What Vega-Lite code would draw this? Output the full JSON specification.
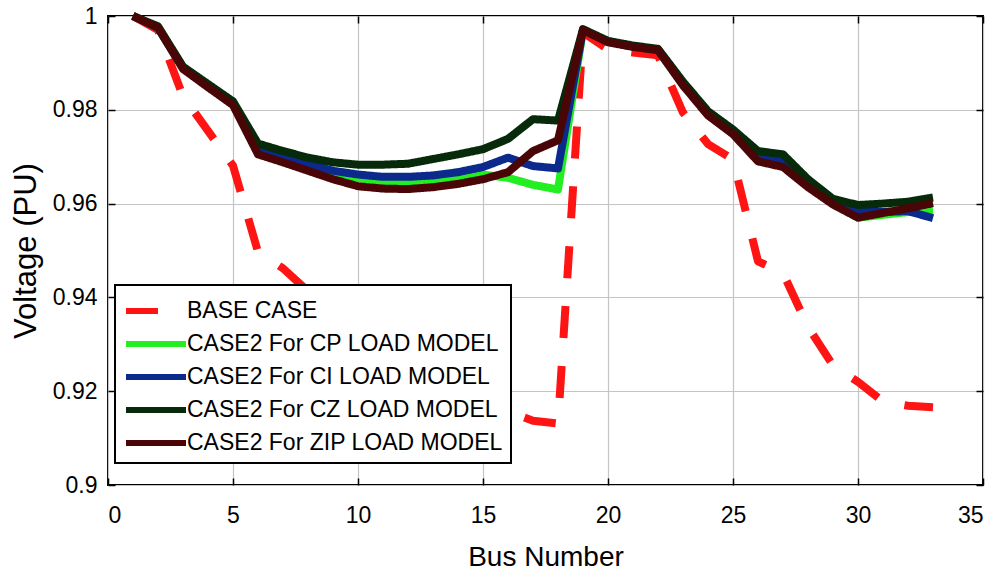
{
  "$schema": "https://vega.github.io/schema/vega-lite/v6.json",
  "width": 875,
  "height": 469,
  "autosize": {"type": "none"},
  "padding": {"left": 108, "top": 16, "right": 19, "bottom": 92},
  "background": "white",
  "data": {
    "values": [
      {"bus": 1, "BASE CASE": 1.0, "CASE2 For CP LOAD MODEL": 1.0, "CASE2 For CI LOAD MODEL": 1.0, "CASE2 For CZ LOAD MODEL": 1.0, "CASE2 For ZIP LOAD MODEL": 1.0},
      {"bus": 2, "BASE CASE": 0.997, "CASE2 For CP LOAD MODEL": 0.9975, "CASE2 For CI LOAD MODEL": 0.9975, "CASE2 For CZ LOAD MODEL": 0.9978, "CASE2 For ZIP LOAD MODEL": 0.9975},
      {"bus": 3, "BASE CASE": 0.9829, "CASE2 For CP LOAD MODEL": 0.9889, "CASE2 For CI LOAD MODEL": 0.989, "CASE2 For CZ LOAD MODEL": 0.9892, "CASE2 For ZIP LOAD MODEL": 0.9887},
      {"bus": 4, "BASE CASE": 0.9755, "CASE2 For CP LOAD MODEL": 0.985, "CASE2 For CI LOAD MODEL": 0.9852, "CASE2 For CZ LOAD MODEL": 0.9855, "CASE2 For ZIP LOAD MODEL": 0.9848},
      {"bus": 5, "BASE CASE": 0.9681, "CASE2 For CP LOAD MODEL": 0.9812, "CASE2 For CI LOAD MODEL": 0.9815, "CASE2 For CZ LOAD MODEL": 0.9818, "CASE2 For ZIP LOAD MODEL": 0.981},
      {"bus": 6, "BASE CASE": 0.9497, "CASE2 For CP LOAD MODEL": 0.9715, "CASE2 For CI LOAD MODEL": 0.972, "CASE2 For CZ LOAD MODEL": 0.9728, "CASE2 For ZIP LOAD MODEL": 0.9705},
      {"bus": 7, "BASE CASE": 0.9462, "CASE2 For CP LOAD MODEL": 0.9695, "CASE2 For CI LOAD MODEL": 0.9702, "CASE2 For CZ LOAD MODEL": 0.9712, "CASE2 For ZIP LOAD MODEL": 0.9688},
      {"bus": 8, "BASE CASE": 0.9413, "CASE2 For CP LOAD MODEL": 0.9677, "CASE2 For CI LOAD MODEL": 0.9685, "CASE2 For CZ LOAD MODEL": 0.9698, "CASE2 For ZIP LOAD MODEL": 0.967},
      {"bus": 9, "BASE CASE": 0.9351, "CASE2 For CP LOAD MODEL": 0.9662, "CASE2 For CI LOAD MODEL": 0.967, "CASE2 For CZ LOAD MODEL": 0.9688, "CASE2 For ZIP LOAD MODEL": 0.9652},
      {"bus": 10, "BASE CASE": 0.9292, "CASE2 For CP LOAD MODEL": 0.9654, "CASE2 For CI LOAD MODEL": 0.9662, "CASE2 For CZ LOAD MODEL": 0.9683, "CASE2 For ZIP LOAD MODEL": 0.9637},
      {"bus": 11, "BASE CASE": 0.9284, "CASE2 For CP LOAD MODEL": 0.9648, "CASE2 For CI LOAD MODEL": 0.9657, "CASE2 For CZ LOAD MODEL": 0.9683, "CASE2 For ZIP LOAD MODEL": 0.9632},
      {"bus": 12, "BASE CASE": 0.9269, "CASE2 For CP LOAD MODEL": 0.9647, "CASE2 For CI LOAD MODEL": 0.9657, "CASE2 For CZ LOAD MODEL": 0.9685, "CASE2 For ZIP LOAD MODEL": 0.9631},
      {"bus": 13, "BASE CASE": 0.9208, "CASE2 For CP LOAD MODEL": 0.965, "CASE2 For CI LOAD MODEL": 0.966, "CASE2 For CZ LOAD MODEL": 0.9695, "CASE2 For ZIP LOAD MODEL": 0.9635},
      {"bus": 14, "BASE CASE": 0.9185, "CASE2 For CP LOAD MODEL": 0.9655, "CASE2 For CI LOAD MODEL": 0.9667, "CASE2 For CZ LOAD MODEL": 0.9705, "CASE2 For ZIP LOAD MODEL": 0.9642},
      {"bus": 15, "BASE CASE": 0.9171, "CASE2 For CP LOAD MODEL": 0.9662, "CASE2 For CI LOAD MODEL": 0.9678, "CASE2 For CZ LOAD MODEL": 0.9716, "CASE2 For ZIP LOAD MODEL": 0.9652},
      {"bus": 16, "BASE CASE": 0.9157, "CASE2 For CP LOAD MODEL": 0.9655, "CASE2 For CI LOAD MODEL": 0.9698, "CASE2 For CZ LOAD MODEL": 0.9738, "CASE2 For ZIP LOAD MODEL": 0.9667},
      {"bus": 17, "BASE CASE": 0.9137, "CASE2 For CP LOAD MODEL": 0.964, "CASE2 For CI LOAD MODEL": 0.968, "CASE2 For CZ LOAD MODEL": 0.978, "CASE2 For ZIP LOAD MODEL": 0.9712},
      {"bus": 18, "BASE CASE": 0.9131, "CASE2 For CP LOAD MODEL": 0.963, "CASE2 For CI LOAD MODEL": 0.9675, "CASE2 For CZ LOAD MODEL": 0.9777, "CASE2 For ZIP LOAD MODEL": 0.9735},
      {"bus": 19, "BASE CASE": 0.9965, "CASE2 For CP LOAD MODEL": 0.997, "CASE2 For CI LOAD MODEL": 0.997, "CASE2 For CZ LOAD MODEL": 0.9972, "CASE2 For ZIP LOAD MODEL": 0.997},
      {"bus": 20, "BASE CASE": 0.9929, "CASE2 For CP LOAD MODEL": 0.9945, "CASE2 For CI LOAD MODEL": 0.9945, "CASE2 For CZ LOAD MODEL": 0.9947, "CASE2 For ZIP LOAD MODEL": 0.9944},
      {"bus": 21, "BASE CASE": 0.9922, "CASE2 For CP LOAD MODEL": 0.9935, "CASE2 For CI LOAD MODEL": 0.9935, "CASE2 For CZ LOAD MODEL": 0.9937, "CASE2 For ZIP LOAD MODEL": 0.9934},
      {"bus": 22, "BASE CASE": 0.9916, "CASE2 For CP LOAD MODEL": 0.9928, "CASE2 For CI LOAD MODEL": 0.9928, "CASE2 For CZ LOAD MODEL": 0.993, "CASE2 For ZIP LOAD MODEL": 0.9927},
      {"bus": 23, "BASE CASE": 0.9794, "CASE2 For CP LOAD MODEL": 0.9855, "CASE2 For CI LOAD MODEL": 0.9856, "CASE2 For CZ LOAD MODEL": 0.986, "CASE2 For ZIP LOAD MODEL": 0.9852},
      {"bus": 24, "BASE CASE": 0.9727, "CASE2 For CP LOAD MODEL": 0.979, "CASE2 For CI LOAD MODEL": 0.9792, "CASE2 For CZ LOAD MODEL": 0.9797, "CASE2 For ZIP LOAD MODEL": 0.9788},
      {"bus": 25, "BASE CASE": 0.9694, "CASE2 For CP LOAD MODEL": 0.975, "CASE2 For CI LOAD MODEL": 0.9752, "CASE2 For CZ LOAD MODEL": 0.9758, "CASE2 For ZIP LOAD MODEL": 0.9748},
      {"bus": 26, "BASE CASE": 0.9477, "CASE2 For CP LOAD MODEL": 0.9695, "CASE2 For CI LOAD MODEL": 0.9702, "CASE2 For CZ LOAD MODEL": 0.9712, "CASE2 For ZIP LOAD MODEL": 0.969},
      {"bus": 27, "BASE CASE": 0.9452, "CASE2 For CP LOAD MODEL": 0.968, "CASE2 For CI LOAD MODEL": 0.9688, "CASE2 For CZ LOAD MODEL": 0.9705, "CASE2 For ZIP LOAD MODEL": 0.9678},
      {"bus": 28, "BASE CASE": 0.9337, "CASE2 For CP LOAD MODEL": 0.964, "CASE2 For CI LOAD MODEL": 0.9642, "CASE2 For CZ LOAD MODEL": 0.9652, "CASE2 For ZIP LOAD MODEL": 0.9635},
      {"bus": 29, "BASE CASE": 0.9255, "CASE2 For CP LOAD MODEL": 0.96, "CASE2 For CI LOAD MODEL": 0.9604, "CASE2 For CZ LOAD MODEL": 0.961, "CASE2 For ZIP LOAD MODEL": 0.9598},
      {"bus": 30, "BASE CASE": 0.922, "CASE2 For CP LOAD MODEL": 0.957, "CASE2 For CI LOAD MODEL": 0.9586, "CASE2 For CZ LOAD MODEL": 0.9597, "CASE2 For ZIP LOAD MODEL": 0.957},
      {"bus": 31, "BASE CASE": 0.9178, "CASE2 For CP LOAD MODEL": 0.9576, "CASE2 For CI LOAD MODEL": 0.9582, "CASE2 For CZ LOAD MODEL": 0.96, "CASE2 For ZIP LOAD MODEL": 0.958},
      {"bus": 32, "BASE CASE": 0.9169, "CASE2 For CP LOAD MODEL": 0.9582, "CASE2 For CI LOAD MODEL": 0.9584, "CASE2 For CZ LOAD MODEL": 0.9604, "CASE2 For ZIP LOAD MODEL": 0.959},
      {"bus": 33, "BASE CASE": 0.9166, "CASE2 For CP LOAD MODEL": 0.9586, "CASE2 For CI LOAD MODEL": 0.9569, "CASE2 For CZ LOAD MODEL": 0.9613, "CASE2 For ZIP LOAD MODEL": 0.9601}
    ]
  },
  "transform": [
    {"fold": ["BASE CASE", "CASE2 For CP LOAD MODEL", "CASE2 For CI LOAD MODEL", "CASE2 For CZ LOAD MODEL", "CASE2 For ZIP LOAD MODEL"], "as": ["series", "v"]}
  ],
  "layer": [
    {
      "mark": {"type": "line", "strokeWidth": 8, "strokeCap": "butt", "strokeJoin": "round"},
      "encoding": {
        "x": {
          "field": "bus", "type": "quantitative",
          "scale": {"domain": [0, 35], "nice": false, "zero": false},
          "axis": {"values": [0, 5, 10, 15, 20, 25, 30, 35], "title": "Bus Number", "labelPadding": 26, "titlePadding": 16, "ticks": true, "tickSize": -7}
        },
        "y": {
          "field": "v", "type": "quantitative",
          "scale": {"domain": [0.9, 1], "nice": false, "zero": false},
          "axis": {"values": [0.9, 0.92, 0.94, 0.96, 0.98, 1], "format": ".2~f", "title": "Voltage (PU)", "labelPadding": 18, "titlePadding": 10, "titleFontSize": 31, "ticks": true, "tickSize": -7}
        },
        "color": {
          "field": "series", "type": "nominal",
          "scale": {
            "domain": ["BASE CASE", "CASE2 For CP LOAD MODEL", "CASE2 For CI LOAD MODEL", "CASE2 For CZ LOAD MODEL", "CASE2 For ZIP LOAD MODEL"],
            "range": ["#ff1414", "#22ee22", "#0b2a8c", "#062a0a", "#4a0606"]
          },
          "legend": {"title": null}
        },
        "strokeDash": {
          "field": "series", "type": "nominal",
          "scale": {
            "domain": ["BASE CASE", "CASE2 For CP LOAD MODEL", "CASE2 For CI LOAD MODEL", "CASE2 For CZ LOAD MODEL", "CASE2 For ZIP LOAD MODEL"],
            "range": [[32, 28], [1, 0], [1, 0], [1, 0], [1, 0]]
          },
          "legend": {"title": null}
        }
      }
    },
    {
      "mark": {"type": "point", "opacity": 0},
      "encoding": {
        "x": {
          "field": "bus", "type": "quantitative",
          "scale": {"domain": [0, 35], "nice": false, "zero": false},
          "axis": {"orient": "top", "values": [0, 5, 10, 15, 20, 25, 30, 35], "title": null, "labels": false, "grid": false, "ticks": true, "tickSize": -7}
        },
        "y": {
          "field": "v", "type": "quantitative",
          "scale": {"domain": [0.9, 1], "nice": false, "zero": false},
          "axis": {"orient": "right", "values": [0.9, 0.92, 0.94, 0.96, 0.98, 1], "title": null, "labels": false, "grid": false, "ticks": true, "tickSize": -7}
        }
      }
    }
  ],
  "resolve": {"axis": {"x": "independent", "y": "independent"}},
  "config": {
    "font": "Liberation Sans",
    "view": {"stroke": "black", "strokeWidth": 2},
    "axis": {
      "labelFont": "Liberation Sans",
      "labelFontSize": 23,
      "labelColor": "black",
      "titleFont": "Liberation Sans",
      "titleFontSize": 28,
      "titleFontWeight": "normal",
      "titleColor": "black",
      "tickColor": "black",
      "tickWidth": 1.5,
      "domain": false,
      "grid": true,
      "gridColor": "#c4c4c4",
      "gridWidth": 1.2
    },
    "legend": {
      "orient": "none",
      "legendX": 7,
      "legendY": 269,
      "direction": "vertical",
      "strokeColor": "black",
      "strokeWidth": 2,
      "fillColor": "white",
      "padding": 8,
      "cornerRadius": 0,
      "labelFont": "Liberation Sans",
      "labelFontSize": 23,
      "labelColor": "black",
      "labelLimit": 0,
      "labelOffset": 28,
      "symbolType": "M-1,0H3",
      "symbolSize": 900,
      "symbolStrokeWidth": 6,
      "rowPadding": 3
    }
  }
}
